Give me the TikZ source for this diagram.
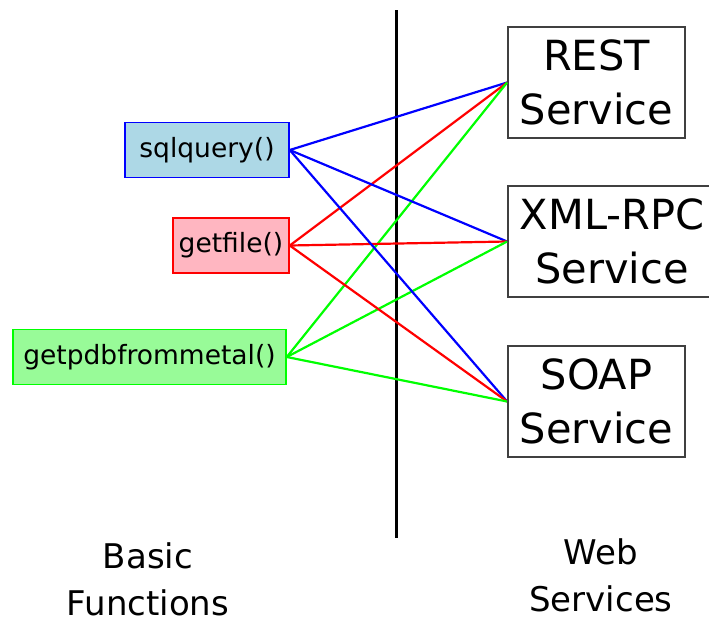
\documentclass[tikz,border=0pt]{standalone}
\usepackage{fontspec}
\setmainfont{DejaVu Sans}
\definecolor{lnblue}{RGB}{0,0,255}
\definecolor{lnred}{RGB}{255,0,0}
\definecolor{lngreen}{RGB}{0,255,0}
\definecolor{fillblue}{RGB}{173,216,230}
\definecolor{fillred}{RGB}{255,182,193}
\definecolor{fillgreen}{RGB}{152,251,152}
\begin{document}
\begin{tikzpicture}[x=1pt,y=-1pt,
  funcbox/.style={draw, line width=1.5pt, inner sep=0pt, minimum height=55pt,
    font=\fontsize{26.5}{30}\selectfont},
  servbox/.style={draw=black!75, line width=1.8pt, inner sep=0pt, minimum height=111pt,
    align=center, font=\fontsize{41.5}{54}\selectfont},
  caption/.style={align=center, font=\fontsize{34}{47}\selectfont},
  link/.style={line width=2.2pt}]
\useasboundingbox (0,0) rectangle (709,624);
\clip (0,0) rectangle (709,624);

% separator between the two columns
\draw[line width=3pt] (396,10) -- (396,538);

% basic functions
\node[funcbox, draw=lnblue, fill=fillblue, minimum width=164pt] (sql) at (207,150) {sqlquery()};
\node[funcbox, draw=lnred, fill=fillred, minimum width=116pt] (file) at (231,245.5) {getfile()};
\node[funcbox, draw=lngreen, fill=fillgreen, minimum width=273pt] (pdb) at (149.5,357) {getpdbfrommetal()};

% web services
\node[servbox, minimum width=177pt] (rest) at (596.5,82.5) {REST\\Service};
\node[servbox, minimum width=208pt] (xml) at (612,241.5) {XML-RPC\\Service};
\node[servbox, minimum width=177pt] (soap) at (596.5,401.5) {SOAP\\Service};

% connections
\foreach \s in {rest,xml,soap}{
  \draw[link, lnblue] (sql.east) -- (\s.west);
  \draw[link, lnred] (file.east) -- (\s.west);
  \draw[link, lngreen] (pdb.east) -- (\s.west);
}

% column captions
\node[caption] (basic) at (148,579) {Basic\\Functions};
\node[caption] (web) at (601,575) {Web\\Services};
\end{tikzpicture}
\end{document}
